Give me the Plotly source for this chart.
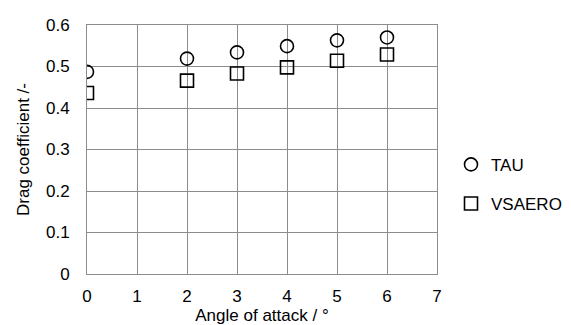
import plotly.graph_objects as go

angle = [0, 2, 3, 4, 5, 6]
tau = [0.487, 0.519, 0.534, 0.549, 0.563, 0.570]
vsaero = [0.436, 0.466, 0.483, 0.498, 0.514, 0.529]

FONT = "Liberation Sans, Arial"
FS = 17

fig = go.Figure()
fig.add_trace(go.Scatter(x=angle, y=tau, mode="markers", name="TAU", legendgroup="a",
                         marker=dict(symbol="circle-open", size=13, color="black", line=dict(width=1.6, color="black"))))
fig.add_trace(go.Scatter(x=angle, y=vsaero, mode="markers", name="VSAERO", legendgroup="b",
                         marker=dict(symbol="square-open", size=13, color="black", line=dict(width=1.6, color="black"))))

axis_common = dict(showgrid=True, gridcolor="#8c8c8c", gridwidth=1, zeroline=False,
                   showline=True, linecolor="#8c8c8c", linewidth=1, mirror=True,
                   ticks="outside", tickcolor="rgba(0,0,0,0)", automargin=False,
                   tickfont=dict(family=FONT, size=FS, color="black"))

fig.update_layout(
    width=571, height=325,
    margin=dict(l=79, r=136, t=17, b=59),
    plot_bgcolor="white", paper_bgcolor="white",
    font=dict(family=FONT, size=FS, color="black"),
    xaxis=dict(range=[0, 7], dtick=1, ticklen=7,
               title=dict(text="Angle of attack / °", font=dict(size=FS), standoff=0), **axis_common),
    yaxis=dict(range=[0, 0.6], dtick=0.1, ticklen=13,
               title=dict(text="Drag coefficient /-", font=dict(size=FS), standoff=12), **axis_common),
    legend=dict(x=1.04, y=0.36, xanchor="left", yanchor="middle", traceorder="grouped", tracegroupgap=14,
                itemwidth=30, font=dict(size=FS), bgcolor="rgba(0,0,0,0)"),
)
fig.write_html("out.html")
